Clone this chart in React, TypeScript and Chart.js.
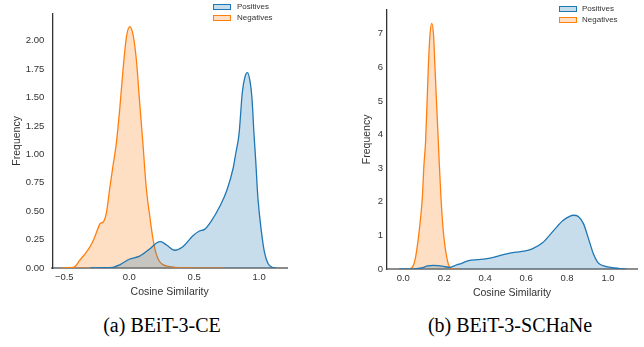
import React, { useEffect, useRef } from "react";
import { Chart, registerables } from "chart.js";

Chart.register(...registerables);

// ---------- shared ----------
const seriesNames = ["Positives", "Negatives"];
const xTitle = "Cosine Similarity";
const yTitle = "Frequency";

// ---------- panel (a) BEiT-3-CE ----------
const ceCaption = "(a) BEiT-3-CE";
const cePosX = [-0.30, -0.20, -0.125, -0.07, 0.0, 0.08, 0.16, 0.21, 0.24, 0.29, 0.35, 0.41, 0.49, 0.54, 0.58, 0.63, 0.70, 0.75, 0.80, 0.82, 0.845, 0.87, 0.89, 0.91, 0.93, 0.944, 0.96, 0.973, 0.99, 1.017, 1.042, 1.068, 1.10, 1.13];
const cePosY = [0, 0.002, 0.006, 0.03, 0.077, 0.105, 0.17, 0.22, 0.232, 0.20, 0.156, 0.185, 0.283, 0.326, 0.34, 0.41, 0.55, 0.68, 0.88, 1.01, 1.18, 1.545, 1.68, 1.72, 1.64, 1.50, 1.18, 0.95, 0.62, 0.32, 0.13, 0.04, 0.006, 0];
const ceNegX = [-0.52, -0.45, -0.42, -0.38, -0.35, -0.30, -0.27, -0.24, -0.225, -0.20, -0.175, -0.15, -0.125, -0.10, -0.073, -0.048, -0.022, 0.004, 0.03, 0.055, 0.08, 0.105, 0.13, 0.158, 0.183, 0.21, 0.235, 0.26, 0.29, 0.35, 0.45, 0.60, 0.72];
const ceNegY = [0, 0.002, 0.01, 0.07, 0.11, 0.19, 0.26, 0.35, 0.39, 0.405, 0.49, 0.70, 0.90, 1.09, 1.40, 1.74, 2.03, 2.125, 2.05, 1.83, 1.46, 1.10, 0.72, 0.455, 0.255, 0.115, 0.055, 0.03, 0.016, 0.006, 0.002, 0, 0];
const ceXTicks = [-0.5, 0, 0.5, 1.0];
const ceXTickLabels = ["\u22120.5", "0.0", "0.5", "1.0"];
const ceYTicks = [0, 0.25, 0.5, 0.75, 1.0, 1.25, 1.5, 1.75, 2.0];
const ceYTickLabels = ["0.00", "0.25", "0.50", "0.75", "1.00", "1.25", "1.50", "1.75", "2.00"];
const ceXRange = [-0.592, 1.214];
const ceYRange = [0, 2.238];

// ---------- panel (b) BEiT-3-SCHaNe ----------
const schCaption = "(b) BEiT-3-SCHaNe";
const schPosX = [-0.02, 0.05, 0.09, 0.12, 0.145, 0.17, 0.195, 0.228, 0.26, 0.285, 0.32, 0.36, 0.40, 0.43, 0.47, 0.51, 0.55, 0.59, 0.63, 0.68, 0.735, 0.78, 0.81, 0.832, 0.855, 0.88, 0.904, 0.928, 0.95, 0.975, 1.0, 1.03, 1.06, 1.09];
const schPosY = [0, 0.005, 0.03, 0.09, 0.11, 0.10, 0.08, 0.05, 0.12, 0.17, 0.25, 0.28, 0.30, 0.33, 0.40, 0.46, 0.50, 0.53, 0.60, 0.78, 1.15, 1.44, 1.56, 1.60, 1.56, 1.35, 0.92, 0.46, 0.20, 0.10, 0.06, 0.03, 0.01, 0];
const schNegX = [0.0, 0.03, 0.046, 0.057, 0.068, 0.078, 0.093, 0.101, 0.109, 0.122, 0.130, 0.139, 0.148, 0.155, 0.171, 0.176, 0.184, 0.195, 0.204, 0.215, 0.225, 0.24, 0.27];
const schNegY = [0, 0.005, 0.07, 0.265, 0.66, 1.15, 2.13, 3.11, 3.80, 5.96, 6.94, 7.31, 6.94, 5.96, 3.80, 3.11, 2.13, 1.15, 0.66, 0.265, 0.07, 0.01, 0];
const schXTicks = [0, 0.2, 0.4, 0.6, 0.8, 1.0];
const schXTickLabels = ["0.0", "0.2", "0.4", "0.6", "0.8", "1.0"];
const schYTicks = [0, 1, 2, 3, 4, 5, 6, 7];
const schYTickLabels = ["0", "1", "2", "3", "4", "5", "6", "7"];
const schXRange = [-0.0796, 1.1417];
const schYRange = [0, 7.716];

// ---------- styles ----------
const BLUE = "#1f77b4";
const BLUE_FILL = "rgba(31,119,180,0.25)";
const ORANGE = "#ff7f0e";
const ORANGE_FILL = "rgba(255,127,14,0.25)";
const SANS = "'Liberation Sans', Arial, sans-serif";
const TEXT = "#333333";

type PanelProps = {
  left: number;
  posX: number[]; posY: number[]; negX: number[]; negY: number[];
  xTicks: number[]; xTickLabels: string[]; yTicks: number[]; yTickLabels: string[];
  xRange: number[]; yRange: number[];
  yAxisWidth: number; xAxisHeight: number; padTop: number; padRight: number;
  yTickPad: number; yTitlePad: number; xTitlePad: number;
  legendBoxX: number; legendTextX: number; legendY: number[];
  caption: string; captionCenter: number;
};

function Panel(p: PanelProps) {
  const ref = useRef<HTMLCanvasElement | null>(null);
  useEffect(() => {
    if (!ref.current) return;
    const chart = new Chart(ref.current, {
      type: "line",
      data: {
        datasets: [
          {
            label: seriesNames[0],
            data: p.posX.map((x, i) => ({ x, y: p.posY[i] })),
            borderColor: BLUE, backgroundColor: BLUE_FILL, fill: "origin",
            borderWidth: 1.3, pointRadius: 0, cubicInterpolationMode: "monotone",
          },
          {
            label: seriesNames[1],
            data: p.negX.map((x, i) => ({ x, y: p.negY[i] })),
            borderColor: ORANGE, backgroundColor: ORANGE_FILL, fill: "origin",
            borderWidth: 1.3, pointRadius: 0, cubicInterpolationMode: "monotone",
          },
        ],
      },
      options: {
        responsive: false,
        animation: false,
        events: [],
        layout: { padding: { left: 0, top: p.padTop, right: p.padRight, bottom: 0 } },
        plugins: { legend: { display: false }, tooltip: { enabled: false } },
        scales: {
          x: {
            type: "linear",
            min: p.xRange[0], max: p.xRange[1],
            grid: { display: false, drawTicks: false },
            border: { display: true, color: "#8c8c8c", width: 2 },
            ticks: {
              autoSkip: false, padding: 4, color: TEXT,
              font: { family: SANS, size: 9.5 },
              callback: (_v: any, i: number) => p.xTickLabels[i],
            },
            title: {
              display: true, text: xTitle, color: TEXT,
              font: { family: SANS, size: 10.5 },
              padding: { top: 0, bottom: p.xTitlePad },
            },
            afterBuildTicks: (s: any) => { s.ticks = p.xTicks.map((v) => ({ value: v })); },
            afterFit: (s: any) => { s.height = p.xAxisHeight; },
          },
          y: {
            type: "linear",
            min: p.yRange[0], max: p.yRange[1],
            grid: { display: false, drawTicks: false },
            border: { display: true, color: "#333333", width: 1.3 },
            ticks: {
              autoSkip: false, padding: p.yTickPad, color: TEXT,
              font: { family: SANS, size: 9.5 },
              callback: (_v: any, i: number) => p.yTickLabels[i],
            },
            title: {
              display: true, text: yTitle, color: TEXT,
              font: { family: SANS, size: 10.5 },
              padding: { top: p.yTitlePad, bottom: 0 },
            },
            afterBuildTicks: (s: any) => { s.ticks = p.yTicks.map((v) => ({ value: v })); },
            afterFit: (s: any) => { s.width = p.yAxisWidth; },
          },
        },
      },
    } as any);
    return () => chart.destroy();
  }, []);

  const legend = [
    { name: seriesNames[0], color: BLUE, fill: BLUE_FILL },
    { name: seriesNames[1], color: ORANGE, fill: ORANGE_FILL },
  ];

  return (
    <>
      <canvas
        ref={ref}
        width={322}
        height={300}
        style={{ position: "absolute", left: p.left, top: 0, width: 322, height: 300, display: "block" }}
      />
      {legend.map((l, i) => (
        <React.Fragment key={l.name}>
          <div
            style={{
              position: "absolute", left: p.legendBoxX, top: p.legendY[i] - 3, width: 18, height: 6,
              boxSizing: "border-box", border: `1.2px solid ${l.color}`, background: l.fill,
            }}
          />
          <div
            style={{
              position: "absolute", left: p.legendTextX, top: p.legendY[i] - 6, height: 12,
              lineHeight: "12px", fontSize: 8, fontFamily: SANS, color: TEXT, whiteSpace: "nowrap",
            }}
          >
            {l.name}
          </div>
        </React.Fragment>
      ))}
      <div
        style={{
          position: "absolute", left: p.captionCenter - 150, top: 313, width: 300, textAlign: "center",
          fontFamily: "'Liberation Serif', 'Times New Roman', serif", fontSize: 20, lineHeight: "24px",
          color: "#000", whiteSpace: "nowrap",
        }}
      >
        {p.caption}
      </div>
    </>
  );
}

export default function App() {
  return (
    <div style={{ position: "absolute", left: 0, top: 0, width: 644, height: 347, background: "#fff", overflow: "hidden" }}>
      <Panel
        left={0}
        posX={cePosX} posY={cePosY} negX={ceNegX} negY={ceNegY}
        xTicks={ceXTicks} xTickLabels={ceXTickLabels} yTicks={ceYTicks} yTickLabels={ceYTickLabels}
        xRange={ceXRange} yRange={ceYRange}
        yAxisWidth={52.3} xAxisHeight={32} padTop={5} padRight={35}
        yTickPad={8} yTitlePad={10.9} xTitlePad={1.7}
        legendBoxX={213} legendTextX={237} legendY={[7, 18]}
        caption={ceCaption} captionCenter={162}
      />
      <Panel
        left={322}
        posX={schPosX} posY={schPosY} negX={schNegX} negY={schNegY}
        xTicks={schXTicks} xTickLabels={schXTickLabels} yTicks={schYTicks} yTickLabels={schYTickLabels}
        xRange={schXRange} yRange={schYRange}
        yAxisWidth={65} xAxisHeight={31} padTop={7} padRight={7}
        yTickPad={4} yTitlePad={38.7} xTitlePad={1}
        legendBoxX={559} legendTextX={582} legendY={[9, 20.3]}
        caption={schCaption} captionCenter={510}
      />
    </div>
  );
}
